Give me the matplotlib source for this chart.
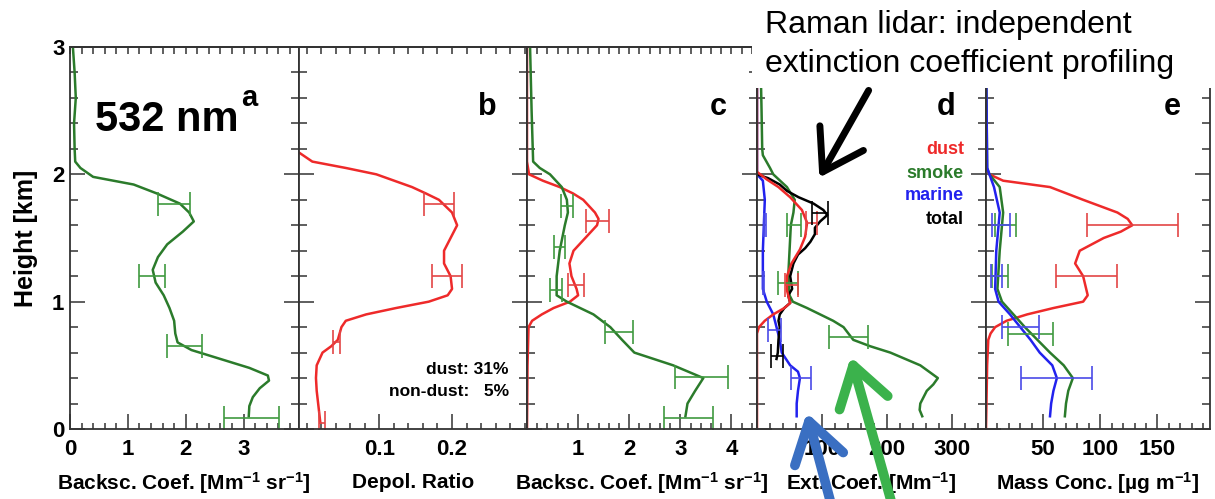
import numpy as np
import matplotlib.pyplot as plt
from matplotlib.patches import Rectangle, FancyArrowPatch
from matplotlib.ticker import MultipleLocator

plt.rcParams['font.family'] = ['Liberation Sans', 'DejaVu Sans']
plt.rcParams['mathtext.fontset'] = 'custom'
plt.rcParams['mathtext.rm'] = 'Liberation Sans:bold'
plt.rcParams['mathtext.bf'] = 'Liberation Sans:bold'
plt.rcParams['mathtext.default'] = 'bf'

# ---- data (height in km) ----
# a: backscatter 532 nm
h_a = [3.0, 2.8, 2.6, 2.4, 2.2, 2.1, 2.05, 1.98, 1.92, 1.85, 1.77, 1.7, 1.63, 1.55, 1.45, 1.35,
       1.25, 1.15, 1.05, 0.95, 0.85, 0.75, 0.68, 0.62, 0.55, 0.48, 0.42, 0.38, 0.32, 0.25, 0.18, 0.1]
bsc_a = [0.05, 0.08, 0.1, 0.07, 0.08, 0.09, 0.18, 0.40, 1.1, 1.5, 1.9, 2.06, 2.14, 1.95, 1.68, 1.52,
         1.43, 1.48, 1.62, 1.72, 1.8, 1.82, 1.86, 2.1, 2.6, 3.1, 3.42, 3.44, 3.28, 3.16, 3.1, 3.09]
err_h_a = [1.77, 1.2, 0.65, 0.09]
err_x_a = [1.8, 1.42, 1.98, 3.14]
err_a = [0.28, 0.22, 0.3, 0.47]

# b: depolarization ratio
h_b = [2.17, 2.1, 2.05, 2.0, 1.9, 1.85, 1.8, 1.7, 1.6, 1.5, 1.4, 1.3, 1.2, 1.1, 1.05, 1.0, 0.95,
       0.9, 0.85, 0.8, 0.7, 0.65, 0.6, 0.5, 0.4, 0.3, 0.2, 0.1, 0.05]
dep_b = [-0.01, 0.008, 0.054, 0.096, 0.145, 0.164, 0.182, 0.2, 0.207, 0.198, 0.189, 0.189, 0.198,
         0.2, 0.194, 0.168, 0.123, 0.082, 0.054, 0.048, 0.043, 0.034, 0.022, 0.014, 0.013, 0.014,
         0.016, 0.018, 0.019]
err_h_b = [1.77, 1.2, 0.68, 0.05]
err_x_b = [0.182, 0.193, 0.041, 0.021]
err_b = [0.02, 0.021, 0.005, 0.004]

# c: backscatter dust / non-dust
h_c_g = [3.0, 2.5, 2.1, 2.05, 2.0, 1.9, 1.8, 1.7, 1.6, 1.4, 1.2, 1.05, 1.0, 0.95, 0.9, 0.8, 0.7,
         0.6, 0.5, 0.4, 0.3, 0.2, 0.1]
bsc_c_g = [0.06, 0.09, 0.12, 0.25, 0.45, 0.68, 0.78, 0.8, 0.74, 0.64, 0.58, 0.58, 0.78, 1.04, 1.3,
           1.63, 1.86, 2.1, 2.86, 3.45, 3.29, 3.14, 3.1]
h_c_r = [3.0, 2.1, 2.0, 1.95, 1.9, 1.85, 1.8, 1.7, 1.65, 1.6, 1.5, 1.4, 1.3, 1.2, 1.1, 1.05, 1.0,
         0.95, 0.9, 0.85, 0.8, 0.5, 0.0]
bsc_c_r = [0, 0, 0.04, 0.31, 0.64, 0.9, 1.1, 1.33, 1.4, 1.37, 1.14, 0.91, 0.83, 0.87, 0.97, 1.0,
           0.84, 0.52, 0.29, 0.1, 0.03, 0.01, 0.0]
err_h_c_g = [1.75, 1.43, 1.09, 0.76, 0.41, 0.09]
err_x_c_g = [0.78, 0.63, 0.57, 1.8, 3.42, 3.16]
err_c_g = [0.12, 0.11, 0.12, 0.28, 0.52, 0.47]
err_h_c_r = [1.63, 1.13]
err_x_c_r = [1.38, 0.96]
err_c_r = [0.23, 0.16]

# d: extinction coefficient
h_d_dust = [3.0, 2.02, 1.96, 1.9, 1.82, 1.72, 1.62, 1.51, 1.41, 1.3, 1.2, 1.09, 0.99, 0.95, 0.9,
            0.85, 0.8, 0.75, 0.0]
ext_dust = [0, 0, 15, 33, 51, 69, 77, 74, 66, 53, 46, 46, 51, 42, 25, 12, 3, 0, 0]
h_d_smoke = [3.0, 2.5, 2.2, 2.15, 2.05, 2.0, 1.9, 1.8, 1.7, 1.6, 1.4, 1.2, 1.05, 1.0, 0.95, 0.9,
             0.85, 0.8, 0.7, 0.65, 0.6, 0.5, 0.4, 0.35, 0.3, 0.2, 0.15, 0.1]
ext_smoke = [5, 7, 8, 9, 20, 25, 46, 58, 56, 52, 50, 48, 50, 55, 77, 97, 117, 133, 148, 174, 205,
             251, 278, 271, 261, 251, 250, 254]
h_d_marine = [3.0, 2.0, 1.95, 1.8, 1.4, 1.1, 1.0, 0.95, 0.9, 0.8, 0.7, 0.6, 0.5, 0.45, 0.4, 0.3,
              0.2, 0.1]
ext_marine = [0, 0, 9, 12, 9, 9, 15, 20, 25, 30, 35, 38, 51, 63, 66, 63, 61, 61]
h_d_total = [2.0, 1.97, 1.92, 1.87, 1.82, 1.77, 1.72, 1.68, 1.63, 1.58, 1.53, 1.47, 1.42, 1.37,
             1.3, 1.2, 1.1, 1.05, 0.99, 0.95, 0.9, 0.85, 0.8, 0.7, 0.6, 0.55]
ext_total = [0, 17, 35, 46, 64, 87, 102, 108, 97, 89, 89, 82, 74, 63, 56, 51, 54, 48, 51, 42, 35,
             33, 35, 33, 32, 30]
err_h_d_smoke = [1.6, 1.15, 0.72]
err_x_d_smoke = [57, 48, 140]
err_d_smoke = [11, 15, 30]
err_h_d_dust = [1.62, 1.13]
err_x_d_dust = [84, 53]
err_d_dust = [8, 10]
err_h_d_marine = [1.6, 1.15, 0.78, 0.4]
err_x_d_marine = [12, 10, 27, 68]
err_d_marine = [1.5, 1.5, 10, 15]
err_h_d_total = [1.7, 0.57]
err_x_d_total = [97, 31]
err_d_total = [12, 9]

# e: mass concentration
h_e = [3.0, 2.05, 2.0, 1.95, 1.9, 1.8, 1.7, 1.65, 1.6, 1.55, 1.5, 1.4, 1.3, 1.2, 1.05, 1.0, 0.95,
       0.9, 0.85, 0.8, 0.75, 0.7, 0.5, 0.0]
mc_dust = [0, 0, 3, 15, 56, 85, 115, 124, 128, 118, 103, 82, 78, 85, 89, 85, 59, 36, 18, 8, 4, 2,
           1, 0]
h_e2 = [3.0, 2.05, 2.0, 1.9, 1.7, 1.4, 1.1, 1.0, 0.9, 0.8, 0.7, 0.6, 0.5, 0.4, 0.3, 0.2, 0.1]
mc_smoke = [0, 1, 3, 12, 15, 12, 10, 14, 24, 34, 45, 56, 68, 76, 72, 70, 69]
mc_marine = [0, 1, 3, 7, 12, 9, 8, 11, 21, 30, 39, 47, 58, 62, 59, 57, 56]
err_h_e_dust = [1.6, 1.2]
err_x_e_dust = [128, 88]
err_e_dust = [40, 27]
err_h_e_smoke = [1.6, 1.2, 0.75]
err_x_e_smoke = [17, 12, 39]
err_e_smoke = [9, 7, 20]
err_h_e_marine = [1.6, 1.2, 0.8, 0.4]
err_x_e_marine = [13, 9, 30, 62]
err_e_marine = [8, 5, 16, 31]

RED = '#ee2a2a'
GREEN = '#2b7b2b'
BLUE = '#2222ee'
EGREEN = '#3f9a3f'
ERED = '#e34545'
EBLUE = '#4a4ae8'
AXC = '#333333'

W, H = 1215, 499
fig = plt.figure(figsize=(W / 100, H / 100), dpi=100)
edges = [70, 298.5, 527, 757, 986, 1210]
axs = []
for i in range(5):
    ax = fig.add_axes([edges[i] / W, (H - 429) / H, (edges[i + 1] - edges[i]) / W, 382 / H])
    axs.append(ax)


def style(ax, xlim, major, labels, minor, xlabel):
    ax.set_ylim(0, 3)
    ax.set_xlim(*xlim)
    ax.set_xticks(major)
    ax.set_xticklabels(labels, fontweight='bold')
    ax.xaxis.set_minor_locator(MultipleLocator(minor))
    ax.set_yticks([0, 1, 2, 3])
    ax.set_yticklabels(['0', '1', '2', '3'], fontweight='bold')
    ax.yaxis.set_minor_locator(MultipleLocator(0.2))
    ax.tick_params(which='both', direction='in', top=False, right=True, color=AXC, width=1.1)
    ax.tick_params(axis='x', which='major', length=11, labelsize=16, pad=7)
    ax.tick_params(axis='x', which='minor', length=4.5)
    ax.tick_params(axis='y', which='major', length=11, labelsize=16, pad=4)
    ax.tick_params(axis='y', which='minor', length=6)
    for sp in ax.spines.values():
        sp.set_linewidth(1.3)
        sp.set_color(AXC)
    # top axis: short ticks only
    top = ax.secondary_xaxis('top')
    top.xaxis.set_major_locator(MultipleLocator(minor))
    top.tick_params(direction='in', length=5, width=1.1, color=AXC, labeltop=False)
    top.spines['top'].set_linewidth(1.3)
    top.spines['top'].set_color(AXC)
    ax.set_xlabel(xlabel, fontsize=15, fontweight='bold', va='center')
    ax.xaxis.set_label_coords(0.5, (429 - 483) / 382)


def ebar(ax, x, y, e, c):
    ax.errorbar(x, y, xerr=e, fmt='none', ecolor=c, elinewidth=1.2, capsize=8.5, capthick=1.2)


LW = 1.8
# a
ax = axs[0]
ax.plot(bsc_a, h_a, color=GREEN, lw=LW)
ebar(ax, err_x_a, err_h_a, err_a, EGREEN)
style(ax, (0, 3.95), [0, 1, 2, 3], ['0', '1', '2', '3'], 0.2,
      'Backsc. Coef. [Mm$^{-1}$ sr$^{-1}$]')
ax.set_ylabel('Height [km]', fontsize=18, fontweight='bold', va='center')
ax.yaxis.set_label_coords((26 - 70) / 228, 0.5)
ax.text((95 - 70) / 228, (429 - 131) / 382, '532 nm', transform=ax.transAxes, fontsize=30,
        fontweight='bold', ha='left', va='baseline')
ax.text((241 - 70) / 228, (429 - 106) / 382, 'a', transform=ax.transAxes, fontsize=21,
        fontweight='bold', ha='left', va='baseline')

# b
ax = axs[1]
ax.plot(dep_b, h_b, color=RED, lw=LW)
ebar(ax, err_x_b, err_h_b, err_b, ERED)
style(ax, (-0.011, 0.303), [0.1, 0.2], ['0.1', '0.2'], 0.02, 'Depol. Ratio')
ax.text(0.921, 0.155, 'dust: 31%', transform=ax.transAxes, fontsize=12.5, fontweight='bold',
        ha='right', va='center')
ax.text(0.921, 0.097, 'non-dust:   5%', transform=ax.transAxes, fontsize=12.5,
        fontweight='bold', ha='right', va='center')

# c
ax = axs[2]
ax.plot(bsc_c_r, h_c_r, color=RED, lw=LW)
ax.plot(bsc_c_g, h_c_g, color=GREEN, lw=LW)
ebar(ax, err_x_c_g, err_h_c_g, err_c_g, EGREEN)
ebar(ax, err_x_c_r, err_h_c_r, err_c_r, ERED)
style(ax, (0, 4.5), [1, 2, 3, 4], ['1', '2', '3', '4'], 0.2,
      'Backsc. Coef. [Mm$^{-1}$ sr$^{-1}$]')

# d
ax = axs[3]
ax.plot(ext_marine, h_d_marine, color=BLUE, lw=LW)
ax.plot(ext_smoke, h_d_smoke, color=GREEN, lw=LW)
ax.plot(ext_total, h_d_total, color='black', lw=LW)
ax.plot(ext_dust, h_d_dust, color=RED, lw=LW)
ebar(ax, err_x_d_smoke, err_h_d_smoke, err_d_smoke, EGREEN)
ebar(ax, err_x_d_dust, err_h_d_dust, err_d_dust, ERED)
ebar(ax, err_x_d_marine, err_h_d_marine, err_d_marine, EBLUE)
ebar(ax, err_x_d_total, err_h_d_total, err_d_total, 'black')
style(ax, (0, 352), [100, 200, 300], ['100', '200', '300'], 20, 'Ext. Coef. [Mm$^{-1}$]')
for i, (name, c) in enumerate([('dust', RED), ('smoke', GREEN), ('marine', BLUE),
                               ('total', 'black')]):
    ax.text((964 - 757) / 229, (429 - (150 + 23 * i)) / 382, name, color=c, fontsize=13,
            fontweight='bold', ha='right', va='center', transform=ax.transAxes)

# e
ax = axs[4]
ax.plot(mc_dust, h_e, color=RED, lw=LW)
ax.plot(mc_smoke, h_e2, color=GREEN, lw=LW)
ax.plot(mc_marine, h_e2, color=BLUE, lw=LW)
ebar(ax, err_x_e_dust, err_h_e_dust, err_e_dust, ERED)
ebar(ax, err_x_e_smoke, err_h_e_smoke, err_e_smoke, EGREEN)
ebar(ax, err_x_e_marine, err_h_e_marine, err_e_marine, EBLUE)
style(ax, (0, 196), [50, 100, 150], ['50', '100', '150'], 10, 'Mass Conc. [µg m$^{-1}$]')

for ax in axs[1:]:
    ax.tick_params(axis='y', labelleft=False)

for ax, letter in zip(axs[1:], 'bcde'):
    ax.text(1 - 30 / 229, (429 - 115) / 382, letter, transform=ax.transAxes, fontsize=22,
            fontweight='bold', ha='right', va='baseline')

# white box with the Raman lidar note on top of panel d/e
fig.add_artist(Rectangle((752 / W, (H - 88) / H), 463 / W, 88 / H, transform=fig.transFigure,
                         facecolor='white', edgecolor='none', zorder=10))
fig.text(765 / W, (H - 33) / H, 'Raman lidar: independent', fontsize=23, ha='left',
         va='baseline', zorder=11)
fig.text(765 / W, (H - 72) / H, 'extinction coefficient profiling', fontsize=23, ha='left',
         va='baseline', zorder=11)

# arrows (coordinates in inches from bottom-left, image pixels / 100)
arrows = [((870, 88), (818, 180), 'black', 5),
          ((834, 515), (806, 410), '#3a6fc2', 7),
          ((895, 515), (850, 354), '#3bb24c', 7)]
for (x0, y0), (x1, y1), c, lw in arrows:
    fig.add_artist(FancyArrowPatch((x0 / 100, (H - y0) / 100), (x1 / 100, (H - y1) / 100),
                                   arrowstyle='->,head_length=0.7,head_width=0.45',
                                   mutation_scale=40, lw=lw, color=c,
                                   transform=fig.dpi_scale_trans, zorder=12))

fig.savefig('out.png', dpi=100)
